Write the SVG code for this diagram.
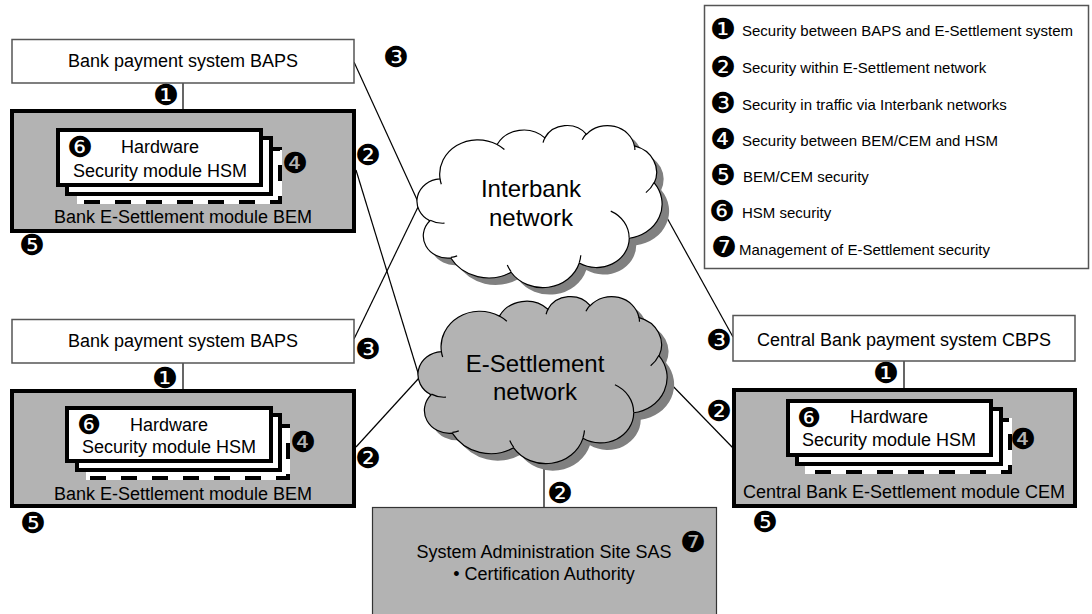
<svg xmlns="http://www.w3.org/2000/svg" width="1092" height="614" viewBox="0 0 1092 614">
<style>
.lbl{font-family:"Liberation Sans",Arial,sans-serif;font-size:18px;fill:#000;text-anchor:middle}
.big{font-size:24px}
.leg{font-family:"Liberation Sans",Arial,sans-serif;font-size:15px;fill:#000}
.num{font-family:"DejaVu Sans",sans-serif;font-size:29px;fill:#000;text-anchor:middle}
.sm{font-size:27px}
.box{fill:#fff;stroke:#555;stroke-width:1.5}
.mod{fill:#b3b3b3;stroke:#000;stroke-width:4}
.hsm{fill:#fff;stroke:#000;stroke-width:4}
.hsmb{fill:#fff;stroke:#fff;stroke-width:4}
.hsmd{fill:none;stroke:#000;stroke-width:4;stroke-dasharray:16 15}
.conn line{stroke:#000;stroke-width:1.2}
.shadow{fill:#808080}
.cl{stroke:#000;stroke-width:1.2}
.hook{fill:none;stroke:#000;stroke-width:1.2}
</style>
<defs>
<path id="co" d="M3900,14370 A6753,9190 0 0 1 14005,5202 A5333,7267 0 0 1 22455,3435 A4365,5945 0 0 1 29832,2483 A4857,6595 0 0 1 38318,5578 A5333,7273 0 0 1 41818,15462 A6775,9220 0 0 1 37404,30206 A5785,7867 0 0 1 28556,36816 A6752,9215 0 0 1 16481,39268 A7720,10543 0 0 1 5804,35471 A4360,5918 0 0 1 2114,25548 A4345,5945 0 0 1 3900,14370 Z"/>
</defs>
<g id="connectors" class="conn">
<line x1="183" y1="83" x2="183" y2="110"/>
<line x1="183" y1="363" x2="183" y2="390"/>
<line x1="904" y1="361" x2="904" y2="389"/>
<line x1="354" y1="62" x2="419" y2="204"/>
<line x1="354" y1="339" x2="419" y2="205"/>
<line x1="356" y1="170" x2="419" y2="376"/>
<line x1="356" y1="447" x2="419" y2="378"/>
<line x1="661" y1="207" x2="733" y2="337"/>
<line x1="667" y1="380" x2="733" y2="448"/>
<line x1="544" y1="462" x2="544" y2="508"/>
</g>
<g id="baps1">
<rect class="box" x="12" y="39.5" width="342" height="43.5"/>
<text class="lbl" x="183" y="67">Bank payment system BAPS</text>
</g>
<g id="bem1">
<rect class="mod" x="12" y="111" width="342" height="120"/>
<rect class="hsmb" x="79" y="149" width="201" height="53"/>
<rect class="hsmd" x="79" y="149" width="201" height="53"/>
<rect class="hsm" x="67" y="138" width="204" height="56"/>
<rect class="hsm" x="58" y="130" width="203" height="55"/>
<text class="lbl" x="160" y="153">Hardware</text>
<text class="lbl" x="160" y="177">Security module HSM</text>
<text class="lbl" x="183" y="223">Bank E-Settlement module BEM</text>
</g>
<g id="baps2">
<rect class="box" x="12" y="319.5" width="342" height="43.5"/>
<text class="lbl" x="183" y="347">Bank payment system BAPS</text>
</g>
<g id="bem2">
<rect class="mod" x="12" y="391" width="342" height="115"/>
<rect class="hsmb" x="88" y="426" width="200" height="52"/>
<rect class="hsmd" x="88" y="426" width="200" height="52"/>
<rect class="hsm" x="77" y="415" width="203" height="55"/>
<rect class="hsm" x="67" y="408" width="204" height="53"/>
<text class="lbl" x="169" y="431">Hardware</text>
<text class="lbl" x="169" y="453">Security module HSM</text>
<text class="lbl" x="183" y="500">Bank E-Settlement module BEM</text>
</g>
<g id="cbps">
<rect class="box" x="733" y="315.5" width="342" height="45.5"/>
<text class="lbl" x="904" y="346">Central Bank payment system CBPS</text>
</g>
<g id="cem">
<rect class="mod" x="734" y="390" width="341" height="116"/>
<rect class="hsmb" x="807" y="420" width="203" height="52"/>
<rect class="hsmd" x="807" y="420" width="203" height="52"/>
<rect class="hsm" x="797" y="409" width="204" height="55"/>
<rect class="hsm" x="788" y="401" width="203" height="54"/>
<text class="lbl" x="889" y="423">Hardware</text>
<text class="lbl" x="889" y="446">Security module HSM</text>
<text class="lbl" x="904" y="498">Central Bank E-Settlement module CEM</text>
</g>
<g id="sas">
<rect x="372.5" y="507.5" width="344" height="120" fill="#b3b3b3" stroke="#333" stroke-width="1.2"/>
<text class="lbl" x="544" y="558">System Administration Site SAS</text>
<text class="lbl" x="544" y="580">• Certification Authority</text>
</g>
<g id="interbank-network">
<use href="#co" class="shadow" transform="translate(425,132) scale(0.005648,0.00375)"/>
<path transform="translate(418,125) scale(0.005648,0.00375)" class="cl" fill="#fff" vector-effect="non-scaling-stroke" d="M3900,14370 A6753,9190 0 0 1 14005,5202 A5333,7267 0 0 1 22455,3435 A4365,5945 0 0 1 29832,2483 A4857,6595 0 0 1 38318,5578 A5333,7273 0 0 1 41818,15462 A6775,9220 0 0 1 37404,30206 A5785,7867 0 0 1 28556,36816 A6752,9215 0 0 1 16481,39268 A7720,10543 0 0 1 5804,35471 A4360,5918 0 0 1 2114,25548 A4345,5945 0 0 1 3900,14370 Z"/>
<path transform="translate(418,125) scale(0.005648,0.00375)" class="hook" vector-effect="non-scaling-stroke" d="M4693,26177 A4345,5945 0 0 1 2160,25380 M6928,34899 A4360,5918 0 0 1 5819,35281 M16478,39090 A6752,9215 0 0 1 15810,37350 M28827,34751 A6752,9215 0 0 1 28560,36660 M34129,22954 A5785,7867 0 0 1 37381,30090 M41798,15354 A5333,7273 0 0 1 40349,18031 M38324,5426 A4857,6595 0 0 1 38400,6690 M29078,3952 A4857,6595 0 0 1 29820,2340 M22141,4720 A4365,5945 0 0 1 22500,3330 M14000,5192 A6753,9190 0 0 1 15299,6540 M4127,15789 A6753,9190 0 0 1 3900,14370"/>
<text class="lbl big" x="531" y="197">Interbank</text>
<text class="lbl big" x="531" y="226">network</text>
</g>
<g id="e-settlement-network">
<use href="#co" class="shadow" transform="translate(426,303) scale(0.005741,0.003866)"/>
<path transform="translate(419,296) scale(0.005741,0.003866)" class="cl" fill="#b3b3b3" vector-effect="non-scaling-stroke" d="M3900,14370 A6753,9190 0 0 1 14005,5202 A5333,7267 0 0 1 22455,3435 A4365,5945 0 0 1 29832,2483 A4857,6595 0 0 1 38318,5578 A5333,7273 0 0 1 41818,15462 A6775,9220 0 0 1 37404,30206 A5785,7867 0 0 1 28556,36816 A6752,9215 0 0 1 16481,39268 A7720,10543 0 0 1 5804,35471 A4360,5918 0 0 1 2114,25548 A4345,5945 0 0 1 3900,14370 Z"/>
<path transform="translate(419,296) scale(0.005741,0.003866)" class="hook" vector-effect="non-scaling-stroke" d="M4693,26177 A4345,5945 0 0 1 2160,25380 M6928,34899 A4360,5918 0 0 1 5819,35281 M16478,39090 A6752,9215 0 0 1 15810,37350 M28827,34751 A6752,9215 0 0 1 28560,36660 M34129,22954 A5785,7867 0 0 1 37381,30090 M41798,15354 A5333,7273 0 0 1 40349,18031 M38324,5426 A4857,6595 0 0 1 38400,6690 M29078,3952 A4857,6595 0 0 1 29820,2340 M22141,4720 A4365,5945 0 0 1 22500,3330 M14000,5192 A6753,9190 0 0 1 15299,6540 M4127,15789 A6753,9190 0 0 1 3900,14370"/>
<text class="lbl big" x="535" y="372">E-Settlement</text>
<text class="lbl big" x="535" y="400">network</text>
</g>
<g id="markers">
<text class="num" x="166" y="105">❶</text>
<text class="num" x="165" y="388">❶</text>
<text class="num" x="886" y="383">❶</text>
<text class="num" x="368" y="165">❷</text>
<text class="num" x="368" y="468">❷</text>
<text class="num" x="719" y="421">❷</text>
<text class="num" x="560" y="503">❷</text>
<text class="num" x="396" y="67">❸</text>
<text class="num" x="368" y="359">❸</text>
<text class="num" x="719" y="350">❸</text>
<text class="num" x="295" y="173">❹</text>
<text class="num" x="303" y="452">❹</text>
<text class="num" x="1023" y="449">❹</text>
<text class="num" x="32" y="255">❺</text>
<text class="num" x="33" y="533">❺</text>
<text class="num" x="765" y="532">❺</text>
<text class="num" x="80" y="157">❻</text>
<text class="num sm" x="89" y="434">❻</text>
<text class="num sm" x="809" y="427">❻</text>
<text class="num" x="693" y="552">❼</text>
</g>
<g id="legend">
<rect x="704.5" y="5.5" width="384" height="263" fill="#fff" stroke="#555" stroke-width="1.5"/>
<text class="num" x="723" y="39">❶</text>
<text class="leg" x="742" y="36">Security between BAPS and E-Settlement system</text>
<text class="num" x="723" y="77">❷</text>
<text class="leg" x="742" y="73">Security within E-Settlement network</text>
<text class="num" x="723" y="113">❸</text>
<text class="leg" x="742" y="110">Security in traffic via Interbank networks</text>
<text class="num" x="723" y="149">❹</text>
<text class="leg" x="742" y="146">Security between BEM/CEM and HSM</text>
<text class="num" x="723" y="185">❺</text>
<text class="leg" x="743" y="182">BEM/CEM security</text>
<text class="num" x="722" y="221">❻</text>
<text class="leg" x="742" y="218">HSM security</text>
<text class="num" x="724" y="257">❼</text>
<text class="leg" x="739" y="255">Management of E-Settlement security</text>
</g>
</svg>
